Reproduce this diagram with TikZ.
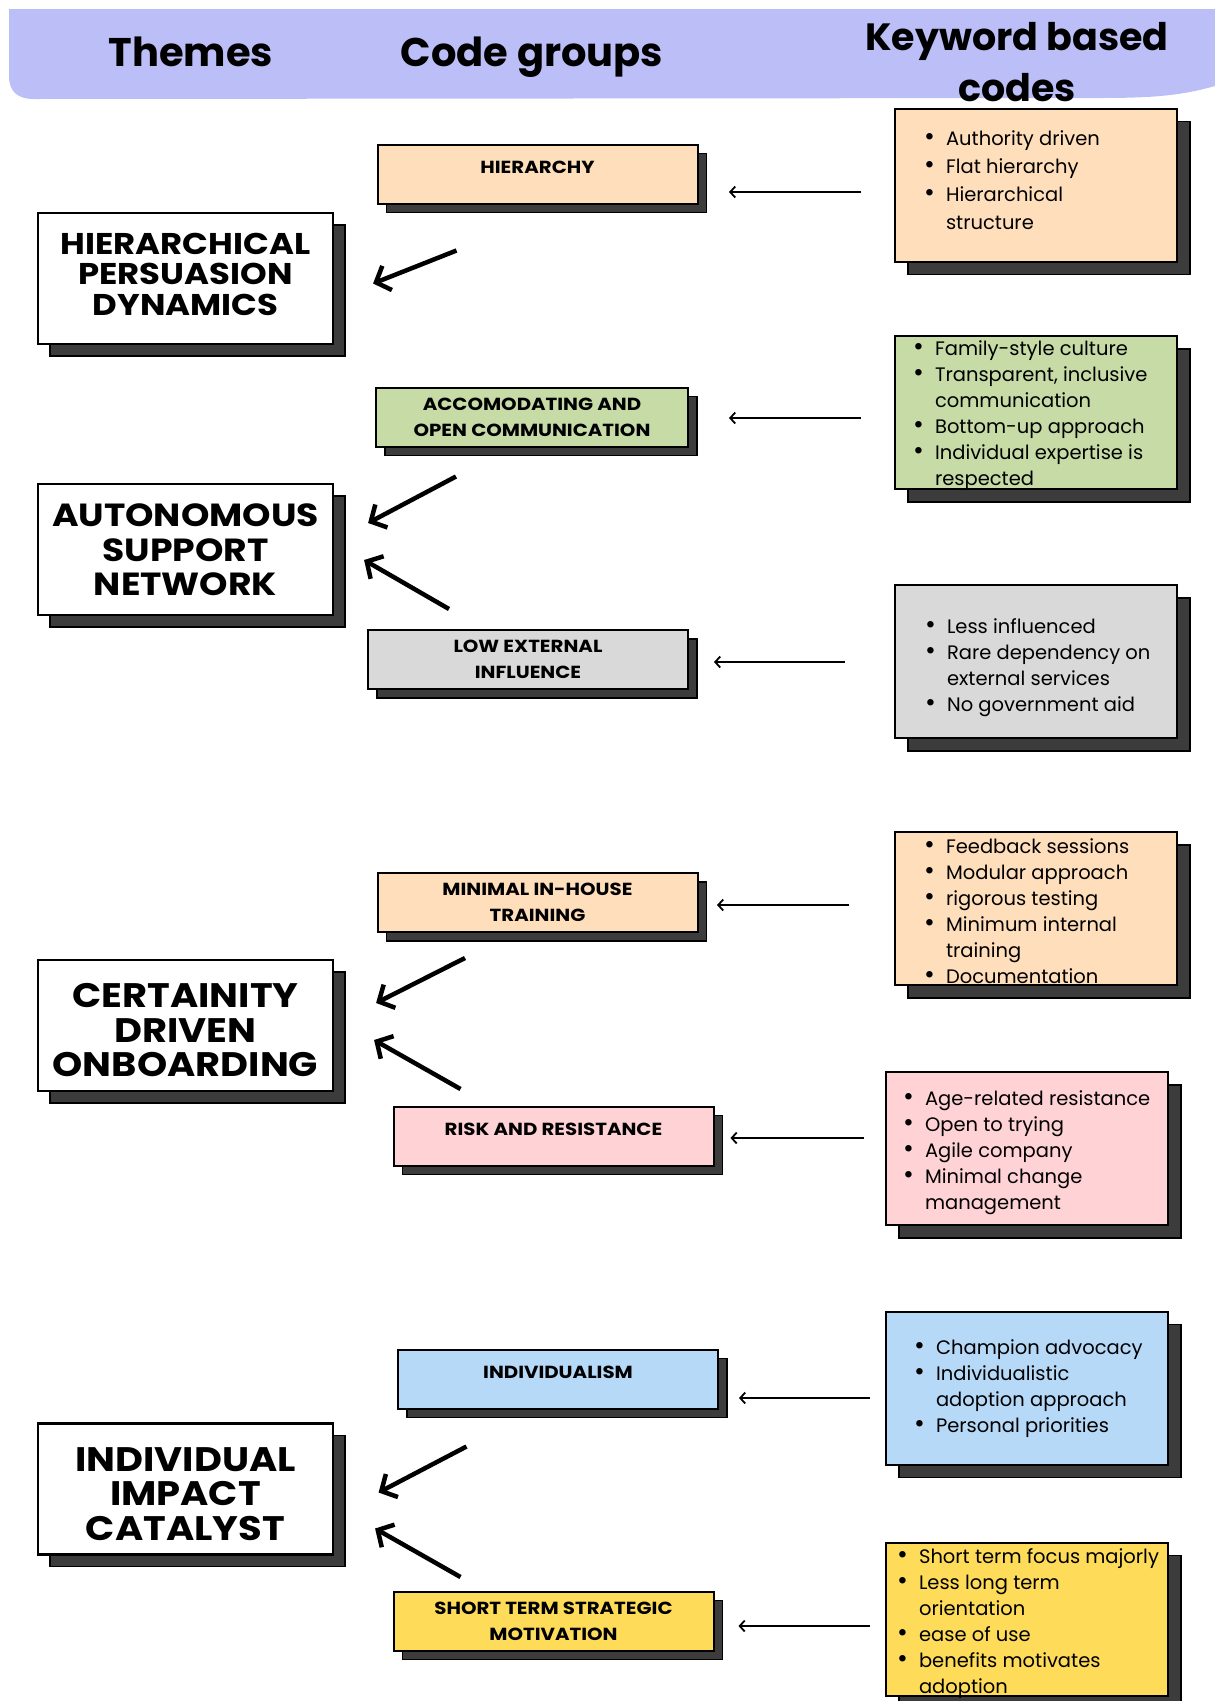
\documentclass[tikz,border=0pt]{standalone}
\usepackage{fontspec}
\setmainfont{Poppins}
\newfontfamily\themefont{Poppins}[FakeStretch=1.13]
\usetikzlibrary{arrows.meta,shadows}
\definecolor{cBand}{RGB}{187,190,247}
\definecolor{cPeach}{RGB}{255,223,187}
\definecolor{cGreen}{RGB}{198,219,166}
\definecolor{cGrey}{RGB}{217,217,217}
\definecolor{cPink}{RGB}{255,210,213}
\definecolor{cBlue}{RGB}{182,217,248}
\definecolor{cYellow}{RGB}{254,220,90}
\definecolor{cShadow}{RGB}{60,60,60}
\newcommand{\kwlist}[1]{\begin{tabular}{@{}l@{\hspace{11pt}}l@{}}#1\end{tabular}}
\newcommand{\kb}{\scalebox{1.35}{\textbullet}}
\newcommand{\thlines}[2]{\raisebox{#1}[\height][\depth]{\begin{tabular}{@{}c@{}}#2\end{tabular}}}

\begin{document}
\begin{tikzpicture}[x=1pt,y=-1pt,
  headtxt/.style={font=\fontsize{40}{51}\selectfont\bfseries,align=center},
  themebox/.style={draw=black,line width=2.2pt,fill=white,minimum width=295,minimum height=131,
    align=center,font=\fontsize{34}{34.5}\selectfont\themefont\bfseries,
    drop shadow={shadow xshift=12pt,shadow yshift=-12pt,opacity=1,fill=cShadow,draw=black,line width=1.5pt}},
  codebox/.style={draw=black,line width=2pt,minimum width=320,minimum height=59,
    align=center,font=\fontsize{17.5}{26}\selectfont\themefont\bfseries,
    drop shadow={shadow xshift=9pt,shadow yshift=-9pt,opacity=1,fill=cShadow,draw=black,line width=1.3pt}},
  oneline/.style={text depth=14pt},
  kwbox/.style={draw=black,line width=2pt,minimum width=282,minimum height=153,
    drop shadow={shadow xshift=13pt,shadow yshift=-13pt,opacity=1,fill=cShadow,draw=black,line width=1.3pt}},
  kwtext/.style={anchor=west,inner sep=0pt,font=\fontsize{19.5}{26}\selectfont},
  thmarrow/.style={line width=4.5pt,-{Straight Barb[length=12pt,width=26pt]}},
  kwarrow/.style={line width=1.8pt,-{Straight Barb[length=5pt,width=11pt]}}]

\useasboundingbox (0,0) rectangle (1215,1701);

% header band
\fill[cBand] (9,9) -- (1215,9) -- (1215,86) .. controls (1180,96) and (1150,98) .. (1100,98)
  -- (34,99) .. controls (18,99) and (9,92) .. (9,76) -- cycle;
\node[headtxt,anchor=base] (hThemes) at (191,66) {Themes};
\node[headtxt,anchor=base] (hCode) at (532,66) {Code groups};
\node[headtxt,font=\fontsize{38}{51}\selectfont\bfseries] (hKey) at (1017,62) {Keyword based\\codes};

% themes
\node[themebox,font=\fontsize{30}{30.5}\selectfont\themefont\bfseries] (thHier) at (185.5,278.5)
  {\thlines{0pt}{HIERARCHICAL\\PERSUASION\\DYNAMICS}};
\node[themebox,font=\fontsize{32}{34.5}\selectfont\themefont\bfseries] (thAuto) at (185.5,549.5)
  {\thlines{-5pt}{AUTONOMOUS\\SUPPORT\\NETWORK}};
\node[themebox] (thCert) at (185.5,1025.5) {\thlines{-10pt}{CERTAINITY\\DRIVEN\\ONBOARDING}};
\node[themebox] (thIndiv) at (185.5,1489) {\thlines{-10pt}{INDIVIDUAL\\IMPACT\\CATALYST}};

% code groups
\node[codebox,oneline,fill=cPeach] (cgHier) at (537.5,174) {HIERARCHY};
\node[codebox,fill=cGreen,minimum width=312] (cgOpen) at (532,417) {ACCOMODATING AND\\OPEN COMMUNICATION};
\node[codebox,fill=cGrey] (cgLow) at (528,659.5) {LOW EXTERNAL\\INFLUENCE};
\node[codebox,fill=cPeach] (cgTrain) at (537.5,902.5) {MINIMAL IN-HOUSE\\TRAINING};
\node[codebox,oneline,fill=cPink] (cgRisk) at (553.5,1136) {RISK AND RESISTANCE};
\node[codebox,oneline,fill=cBlue] (cgIndiv) at (558,1379) {INDIVIDUALISM};
\node[codebox,fill=cYellow] (cgShort) at (553.5,1621) {SHORT TERM STRATEGIC\\MOTIVATION};

% keyword based codes
\node[kwbox,fill=cPeach] (kwHier) at (1036,185) {};
\node[kwbox,fill=cGreen] (kwOpen) at (1036,412.5) {};
\node[kwbox,fill=cGrey] (kwLow) at (1036,661.5) {};
\node[kwbox,fill=cPeach] (kwTrain) at (1036,908.5) {};
\node[kwbox,fill=cPink] (kwRisk) at (1027,1148.5) {};
\node[kwbox,fill=cBlue] (kwIndiv) at (1027,1388) {};
\node[kwbox,fill=cYellow] (kwShort) at (1027,1619) {};

\node[kwtext,font=\fontsize{19.5}{27.7}\selectfont] (kwHierT) at ([shift={(30,-3)}]kwHier.west)
  {\kwlist{\kb & Authority driven\\ \kb & Flat hierarchy\\ \kb & Hierarchical\\ & structure}};
\node[kwtext] (kwOpenT) at ([shift={(19,3)}]kwOpen.west)
  {\kwlist{\kb & Family-style culture\\ \kb & Transparent, inclusive\\ & communication\\
   \kb & Bottom-up approach\\ \kb & Individual expertise is\\ & respected}};
\node[kwtext] (kwLowT) at ([shift={(31,6)}]kwLow.west)
  {\kwlist{\kb & Less influenced\\ \kb & Rare dependency on\\ & external services\\ \kb & No government aid}};
\node[kwtext] (kwTrainT) at ([shift={(30,5)}]kwTrain.west)
  {\kwlist{\kb & Feedback sessions\\ \kb & Modular approach\\ \kb & rigorous testing\\
   \kb & Minimum internal\\ & training\\ \kb & Documentation}};
\node[kwtext] (kwRiskT) at ([shift={(18,4)}]kwRisk.west)
  {\kwlist{\kb & Age-related resistance\\ \kb & Open to trying\\ \kb & Agile company\\
   \kb & Minimal change\\ & management}};
\node[kwtext] (kwIndivT) at ([shift={(29,0)}]kwIndiv.west)
  {\kwlist{\kb & Champion advocacy\\ \kb & Individualistic\\ & adoption approach\\ \kb & Personal priorities}};
\node[kwtext] (kwShortT) at ([shift={(12,4)}]kwShort.west)
  {\kwlist{\kb & Short term focus majorly\\ \kb & Less long term\\ & orientation\\
   \kb & ease of use\\ \kb & benefits motivates\\ & adoption}};

% keyword codes to code groups
\draw[kwarrow] ([shift={(-33,7)}]kwHier.west) -- ([shift={(30.5,18)}]cgHier.east);
\draw[kwarrow] ([shift={(-33,5.5)}]kwOpen.west) -- ([shift={(40,1)}]cgOpen.east);
\draw[kwarrow] ([shift={(-49,0.5)}]kwLow.west) -- ([shift={(25,2.5)}]cgLow.east);
\draw[kwarrow] ([shift={(-45,-3.5)}]kwTrain.west) -- ([shift={(18.5,2.5)}]cgTrain.east);
\draw[kwarrow] ([shift={(-21,-10.5)}]kwRisk.west) -- ([shift={(16,2)}]cgRisk.east);
\draw[kwarrow] ([shift={(-15,10)}]kwIndiv.west) -- ([shift={(20,19)}]cgIndiv.east);
\draw[kwarrow] ([shift={(-15,7)}]kwShort.west) -- ([shift={(24,5)}]cgShort.east);

% code groups to themes
\draw[thmarrow] ([shift={(80,46)}]cgHier.south west) -- ([shift={(39,5)}]thHier.east);
\draw[thmarrow] ([shift={(81,29)}]cgOpen.south west) -- ([shift={(34,-26.5)}]thAuto.east);
\draw[thmarrow] ([shift={(82,-20)}]cgLow.north west) -- ([shift={(30,10.5)}]thAuto.east);
\draw[thmarrow] ([shift={(88.5,25)}]cgTrain.south west) -- ([shift={(42,-22.5)}]thCert.east);
\draw[thmarrow] ([shift={(68,-16.5)}]cgRisk.north west) -- ([shift={(40,14.5)}]thCert.east);
\draw[thmarrow] ([shift={(69.5,37)}]cgIndiv.south west) -- ([shift={(44.5,3.5)}]thIndiv.east);
\draw[thmarrow] ([shift={(68,-13.5)}]cgShort.north west) -- ([shift={(41,39.5)}]thIndiv.east);
\end{tikzpicture}
\end{document}
